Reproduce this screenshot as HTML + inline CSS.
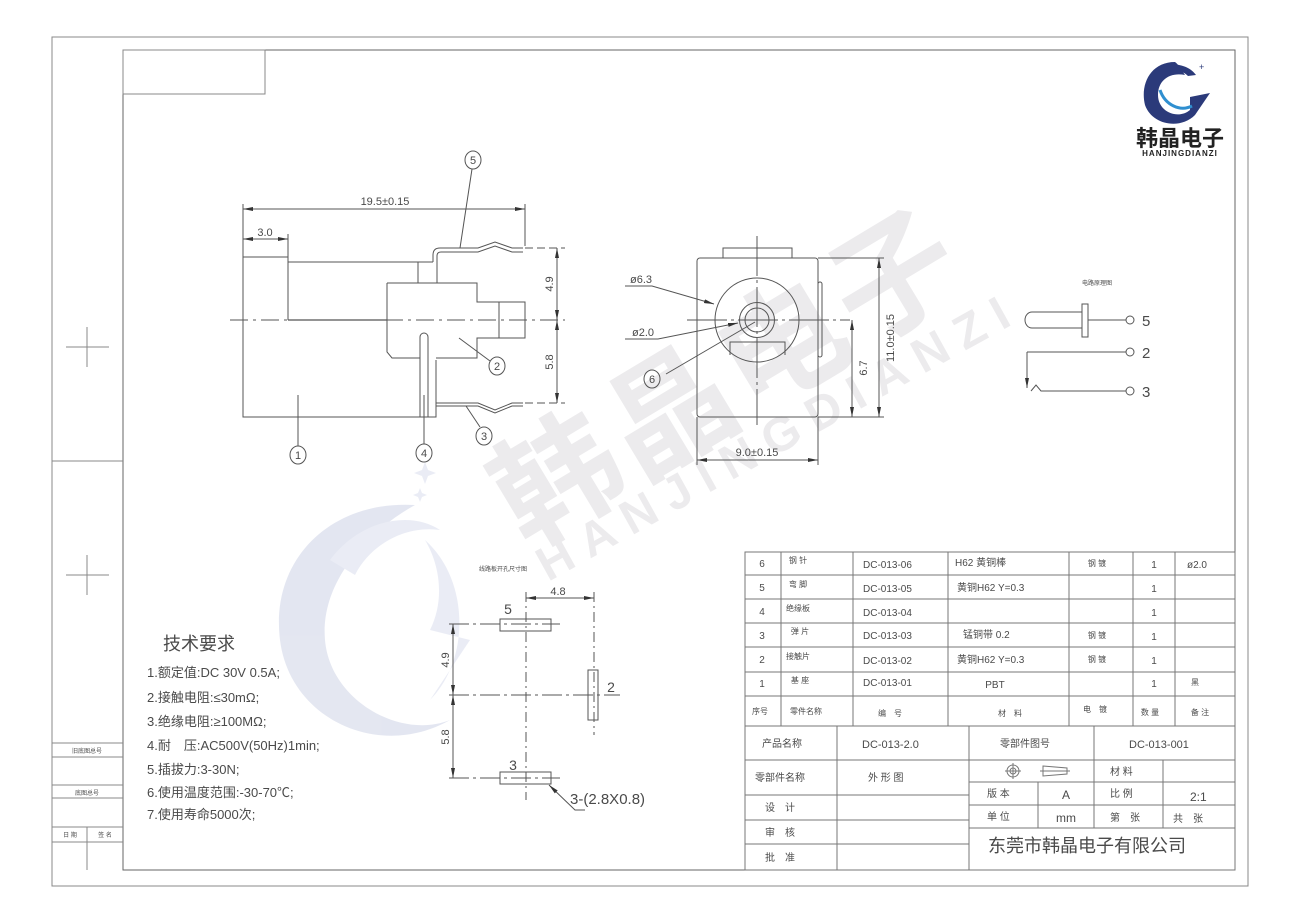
<!DOCTYPE html>
<html><head><meta charset="utf-8">
<style>
html,body{margin:0;padding:0;background:#fff;}
svg{display:block;}
text{font-family:"Liberation Sans","Noto Sans CJK SC",sans-serif;fill:#4a4a4a;}
.cj{font-family:"Liberation Sans","Noto Sans CJK SC",sans-serif;}
</style></head><body>
<svg width="1300" height="922" viewBox="0 0 1300 922" xmlns="http://www.w3.org/2000/svg">
<defs>
<marker id="ar" viewBox="0 0 10 4" refX="10" refY="2" markerWidth="10" markerHeight="4" orient="auto-start-reverse" markerUnits="userSpaceOnUse"><path d="M0,0 L10,2 L0,4z" fill="#333"/></marker>
</defs>
<rect width="1300" height="922" fill="#fff"/>

<!-- watermark faded logo -->
<g opacity="0.5">
<path d="M415,505 C330,500 270,560 280,640 C290,720 380,760 450,720 C400,740 330,700 325,640 C320,580 370,530 415,505z" fill="#c9cfe4"/>
<path d="M330,560 C360,520 410,510 440,530 C405,525 370,545 355,575z" fill="#d6dbec"/>
<path d="M425,540 C470,580 470,660 430,700 L470,640 L430,630 C445,600 440,565 425,540z" fill="#d6dbec"/>
<path d="M425,462 l3,8 8,3 -8,3 -3,8 -3,-8 -8,-3 8,-3z" fill="#d6dbec"/>
<path d="M420,488 l2,5 5,2 -5,2 -2,5 -2,-5 -5,-2 5,-2z" fill="#d6dbec"/>
</g>
<g transform="translate(555,480) rotate(-31)">
<text x="-60" y="45" font-size="125" font-weight="bold" style="fill:#ecebed" class="cj" letter-spacing="6">韩晶电子</text>
</g>
<g transform="translate(548,582) rotate(-29)">
<text x="0" y="0" font-size="48" font-weight="bold" style="fill:#ecebed" letter-spacing="13">HANJINGDIANZI</text>
</g>

<!-- frames -->
<g stroke="#888" fill="none" stroke-width="1">
<rect x="52" y="37" width="1196" height="849"/>
<rect x="123" y="50" width="1112" height="820" stroke="#666"/>
<rect x="123" y="50" width="142" height="44"/>
<line x1="52" y1="461" x2="123" y2="461"/>
<line x1="52" y1="743" x2="123" y2="743"/>
<line x1="52" y1="757" x2="123" y2="757"/>
<line x1="52" y1="785" x2="123" y2="785"/>
<line x1="52" y1="798" x2="123" y2="798"/>
<line x1="52" y1="827" x2="123" y2="827"/>
<line x1="52" y1="842" x2="123" y2="842"/>
<line x1="87" y1="827" x2="87" y2="870"/>
<line x1="66" y1="347" x2="109" y2="347"/><line x1="87" y1="327" x2="87" y2="367"/>
<line x1="66" y1="575" x2="109" y2="575"/><line x1="87" y1="555" x2="87" y2="595"/>
</g>
<text x="87" y="753" font-size="6" text-anchor="middle" class="cj">旧底图总号</text>
<text x="87" y="795" font-size="6" text-anchor="middle" class="cj">底图总号</text>
<text x="70" y="837" font-size="6" text-anchor="middle" class="cj">日 期</text>
<text x="105" y="837" font-size="6" text-anchor="middle" class="cj">签 名</text>

<!-- logo top right -->
<g>
<path d="M1175,62 C1150,62 1140,85 1145,105 C1152,125 1180,130 1195,115 L1210,93 L1190,97 L1190,110 C1178,120 1158,112 1158,95 C1158,80 1170,72 1185,75 C1180,68 1178,64 1175,62z" fill="#2b3a7a"/>
<path d="M1160,90 C1165,105 1180,112 1192,106" stroke="#2f8fd0" stroke-width="3" fill="none"/>
<path d="M1165,66 C1175,62 1190,66 1196,75 L1188,76 C1182,70 1172,68 1165,72z" fill="#2b3a7a"/>
<text x="1199" y="70" font-size="9" style="fill:#2b3a7a">+</text>
<text x="1180" y="146" font-size="22" font-weight="bold" text-anchor="middle" style="fill:#222" class="cj">韩晶电子</text>
<text x="1180" y="156" font-size="8" font-weight="bold" text-anchor="middle" style="fill:#222" letter-spacing="1">HANJINGDIANZI</text>
</g>

<!-- LEFT side view -->
<g stroke="#555" fill="none" stroke-width="1">
<line x1="243" y1="204" x2="243" y2="257"/>
<line x1="525" y1="204" x2="525" y2="246"/>
<line x1="288" y1="234" x2="288" y2="257"/>
<line x1="243" y1="209" x2="525" y2="209" marker-start="url(#ar)" marker-end="url(#ar)"/>
<line x1="243" y1="239" x2="288" y2="239" marker-start="url(#ar)" marker-end="url(#ar)"/>
<path d="M243,257 H288 V262 H433"/>
<path d="M243,257 V417 H436 V360"/>
<line x1="418" y1="262" x2="418" y2="283"/>
<path d="M387,283 H477 V302 H525 V338 H477 V358 H436"/>
<path d="M387,283 V352 L392,358 H420"/>
<line x1="499" y1="302" x2="499" y2="338"/>
<line x1="288" y1="262" x2="288" y2="320"/>
<line x1="288" y1="320" x2="387" y2="320" stroke-width="1.3"/>
<line x1="230" y1="320" x2="565" y2="320" stroke-dasharray="18,5,3,5"/>
<path d="M420,417 V337 A4,4 0 0 1 428,337 V417"/>
<path d="M433,262 V255 Q433,248 440,248 H478 L495,242 L512,248 H523"/>
<path d="M437,283 V256 Q437,252 441,252 H478 L495,246 L512,252 H523"/>
<path d="M436,403 H478 L495,410 L512,403 H523"/>
<path d="M436,406 H478 L495,413 L512,406 H523"/>
<line x1="525" y1="248" x2="565" y2="248" stroke-dasharray="8,4"/>
<line x1="525" y1="403" x2="565" y2="403" stroke-dasharray="8,4"/>
<line x1="557" y1="248" x2="557" y2="320" marker-start="url(#ar)" marker-end="url(#ar)"/>
<line x1="557" y1="320" x2="557" y2="403" marker-start="url(#ar)" marker-end="url(#ar)"/>
<ellipse cx="473" cy="160" rx="8" ry="9"/><line x1="472" y1="169" x2="460" y2="248"/>
<ellipse cx="497" cy="366" rx="8" ry="9"/><line x1="490" y1="361" x2="459" y2="338"/>
<ellipse cx="484" cy="436" rx="8" ry="9"/><line x1="480" y1="427" x2="466" y2="406"/>
<ellipse cx="298" cy="455" rx="8" ry="9"/><line x1="298" y1="446" x2="298" y2="395"/>
<ellipse cx="424" cy="453" rx="8" ry="9"/><line x1="424" y1="444" x2="424" y2="395"/>
</g>
<g font-size="11">
<text x="385" y="205" text-anchor="middle">19.5±0.15</text>
<text x="265" y="236" text-anchor="middle">3.0</text>
<text transform="translate(553,284) rotate(-90)" text-anchor="middle">4.9</text>
<text transform="translate(553,362) rotate(-90)" text-anchor="middle">5.8</text>
<text x="473" y="164" text-anchor="middle">5</text>
<text x="497" y="370" text-anchor="middle">2</text>
<text x="484" y="440" text-anchor="middle">3</text>
<text x="298" y="459" text-anchor="middle">1</text>
<text x="424" y="457" text-anchor="middle">4</text>
</g>

<!-- FRONT view -->
<g stroke="#555" fill="none" stroke-width="1">
<rect x="697" y="258" width="121" height="159" rx="3"/>
<path d="M723,258 V248 H792 V258"/>
<circle cx="757" cy="320" r="42"/>
<circle cx="757" cy="320" r="17.5"/>
<circle cx="757" cy="320" r="12"/>
<path d="M730,355 V342 H785 V355"/>
<rect x="818" y="282" width="4" height="75" rx="2"/>
<line x1="757" y1="236" x2="757" y2="425" stroke-dasharray="40,4,3,4"/>
<line x1="687" y1="320" x2="850" y2="320" stroke-dasharray="40,4,3,4"/>
<line x1="818" y1="258" x2="884" y2="258"/>
<line x1="818" y1="417" x2="884" y2="417"/>
<line x1="879" y1="258" x2="879" y2="417" marker-start="url(#ar)" marker-end="url(#ar)"/>
<line x1="852" y1="320" x2="852" y2="417" marker-start="url(#ar)" marker-end="url(#ar)"/>
<line x1="697" y1="417" x2="697" y2="465"/><line x1="818" y1="417" x2="818" y2="465"/>
<line x1="697" y1="460" x2="818" y2="460" marker-start="url(#ar)" marker-end="url(#ar)"/>
<polyline points="625,286 652,286 714,304" marker-end="url(#ar)"/>
<polyline points="625,339 658,339 738,323" marker-end="url(#ar)"/>
<ellipse cx="652" cy="379" rx="8" ry="9"/>
<line x1="666" y1="374" x2="755" y2="322"/>
</g>
<g font-size="11">
<text x="630" y="283">ø6.3</text>
<text x="632" y="336">ø2.0</text>
<text x="652" y="383" text-anchor="middle">6</text>
<text transform="translate(894,338) rotate(-90)" text-anchor="middle">11.0±0.15</text>
<text transform="translate(867,368) rotate(-90)" text-anchor="middle">6.7</text>
<text x="757" y="456" text-anchor="middle">9.0±0.15</text>
</g>

<!-- schematic -->
<text x="1097" y="285" font-size="6" text-anchor="middle" class="cj">电路原理图</text>
<g stroke="#555" fill="none" stroke-width="1">
<path d="M1082,312 H1032 A7,8 0 0 0 1032,328 H1082"/>
<rect x="1082" y="304" width="6" height="33"/>
<line x1="1088" y1="320" x2="1126" y2="320"/>
<circle cx="1130" cy="320" r="4"/>
<line x1="1027" y1="352" x2="1126" y2="352"/>
<circle cx="1130" cy="352" r="4"/>
<line x1="1027" y1="352" x2="1027" y2="388" marker-end="url(#ar)"/>
<polyline points="1031,391 1036,385 1041,391 1126,391"/>
<circle cx="1130" cy="391" r="4"/>
</g>
<g font-size="15"><text x="1142" y="326">5</text><text x="1142" y="358">2</text><text x="1142" y="397">3</text></g>

<!-- PCB layout -->
<text x="503" y="571" font-size="6" text-anchor="middle" class="cj">线路板开孔尺寸图</text>
<g stroke="#555" fill="none" stroke-width="1">
<line x1="526" y1="592" x2="526" y2="800" stroke-dasharray="10,4,2,4"/>
<line x1="594" y1="592" x2="594" y2="735" stroke-dasharray="10,4,2,4"/>
<line x1="526" y1="598" x2="594" y2="598" marker-start="url(#ar)" marker-end="url(#ar)"/>
<line x1="449" y1="624" x2="560" y2="624" stroke-dasharray="20,4,3,4"/>
<line x1="449" y1="695" x2="620" y2="695" stroke-dasharray="20,4,3,4"/>
<line x1="449" y1="778" x2="560" y2="778" stroke-dasharray="20,4,3,4"/>
<rect x="500" y="619" width="51" height="12"/>
<rect x="588" y="670" width="10" height="50"/>
<rect x="500" y="772" width="51" height="12"/>
<line x1="453" y1="624" x2="453" y2="695" marker-start="url(#ar)" marker-end="url(#ar)"/>
<line x1="453" y1="695" x2="453" y2="778" marker-start="url(#ar)" marker-end="url(#ar)"/>
<polyline points="585,810 575,810 549,785" marker-end="url(#ar)"/>
</g>
<g font-size="14">
<text x="558" y="595" text-anchor="middle" font-size="11">4.8</text>
<text x="508" y="614" text-anchor="middle">5</text>
<text x="611" y="692" text-anchor="middle">2</text>
<text x="513" y="770" text-anchor="middle">3</text>
<text x="570" y="804" font-size="15">3-(2.8X0.8)</text>
<text transform="translate(449,660) rotate(-90)" text-anchor="middle" font-size="11">4.9</text>
<text transform="translate(449,737) rotate(-90)" text-anchor="middle" font-size="11">5.8</text>
</g>

<!-- tech requirements -->
<g class="cj">
<text x="163" y="650" font-size="18">技术要求</text>
<g font-size="13">
<text x="147" y="677">1.额定值:DC  30V  0.5A;</text>
<text x="147" y="702">2.接触电阻:≤30mΩ;</text>
<text x="147" y="726">3.绝缘电阻:≥100MΩ;</text>
<text x="147" y="750">4.耐　压:AC500V(50Hz)1min;</text>
<text x="147" y="774">5.插拔力:3-30N;</text>
<text x="147" y="797">6.使用温度范围:-30-70℃;</text>
<text x="147" y="819">7.使用寿命5000次;</text>
</g></g>

<!-- title block -->
<g stroke="#777" fill="none" stroke-width="1">
<rect x="745" y="552" width="490" height="318"/>
<line x1="745" y1="575" x2="1235" y2="575"/>
<line x1="745" y1="599" x2="1235" y2="599"/>
<line x1="745" y1="623" x2="1235" y2="623"/>
<line x1="745" y1="647" x2="1235" y2="647"/>
<line x1="745" y1="672" x2="1235" y2="672"/>
<line x1="745" y1="696" x2="1235" y2="696"/>
<line x1="745" y1="726" x2="1235" y2="726"/>
<line x1="781" y1="552" x2="781" y2="726"/>
<line x1="853" y1="552" x2="853" y2="726"/>
<line x1="948" y1="552" x2="948" y2="726"/>
<line x1="1069" y1="552" x2="1069" y2="726"/>
<line x1="1133" y1="552" x2="1133" y2="726"/>
<line x1="1175" y1="552" x2="1175" y2="726"/>
<line x1="745" y1="760" x2="1235" y2="760"/>
<line x1="745" y1="795" x2="969" y2="795"/>
<line x1="745" y1="820" x2="969" y2="820"/>
<line x1="745" y1="844" x2="969" y2="844"/>
<line x1="969" y1="782" x2="1235" y2="782"/>
<line x1="969" y1="805" x2="1235" y2="805"/>
<line x1="969" y1="828" x2="1235" y2="828"/>
<line x1="837" y1="726" x2="837" y2="870"/>
<line x1="969" y1="726" x2="969" y2="870"/>
<line x1="1094" y1="726" x2="1094" y2="828"/>
<line x1="1038" y1="782" x2="1038" y2="828"/>
<line x1="1163" y1="760" x2="1163" y2="828"/>
<circle cx="1013" cy="771" r="6"/><circle cx="1013" cy="771" r="3"/>
<line x1="1005" y1="771" x2="1021" y2="771"/><line x1="1013" y1="763" x2="1013" y2="779"/>
<path d="M1043,766 L1067,768 V774 L1043,776z"/><line x1="1040" y1="771" x2="1070" y2="771"/>
</g>
<g font-size="10" class="cj">
<g text-anchor="middle">
<text x="762" y="567">6</text><text x="762" y="591">5</text><text x="762" y="615">4</text><text x="762" y="639">3</text><text x="762" y="663">2</text><text x="762" y="687">1</text>
<text x="798" y="563" font-size="8">钢 针</text><text x="798" y="587" font-size="8">弯 脚</text><text x="798" y="611" font-size="8">绝缘板</text><text x="800" y="634" font-size="8">弹 片</text><text x="798" y="659" font-size="8">接触片</text><text x="800" y="683" font-size="8">基 座</text>
<text x="760" y="714" font-size="8">序号</text><text x="806" y="714" font-size="8">零件名称</text>
<text x="890" y="716" font-size="8">编　号</text><text x="1010" y="716" font-size="8">材　料</text>
<text x="1095" y="712" font-size="8">电　镀</text><text x="1150" y="715" font-size="8">数 量</text><text x="1200" y="715" font-size="8">备 注</text>
<text x="1097" y="566" font-size="8">钢 镀</text><text x="1097" y="638" font-size="8">钢 镀</text><text x="1097" y="662" font-size="8">钢 镀</text>
<text x="1154" y="568">1</text><text x="1154" y="592">1</text><text x="1154" y="616">1</text><text x="1154" y="640">1</text><text x="1154" y="664">1</text><text x="1154" y="687">1</text>
<text x="1197" y="568">ø2.0</text><text x="1195" y="685" font-size="8">黑</text>
<text x="995" y="688">PBT</text>
</g>
<text x="863" y="568">DC-013-06</text><text x="863" y="592">DC-013-05</text><text x="863" y="616">DC-013-04</text><text x="863" y="639">DC-013-03</text><text x="863" y="664">DC-013-02</text><text x="863" y="686">DC-013-01</text>
<text x="955" y="566">H62 黄铜棒</text><text x="957" y="591">黄铜H62  Y=0.3</text><text x="963" y="638">锰铜带 0.2</text><text x="957" y="663">黄铜H62  Y=0.3</text>
<text x="762" y="747">产品名称</text>
<text x="862" y="748" font-size="11">DC-013-2.0</text>
<text x="1000" y="747">零部件图号</text>
<text x="1129" y="748" font-size="11">DC-013-001</text>
<text x="755" y="781">零部件名称</text>
<text x="868" y="781">外 形 图</text>
<text x="1110" y="775">材 料</text>
<text x="987" y="797">版 本</text><text x="1062" y="799" font-size="12">A</text><text x="1110" y="797">比 例</text><text x="1190" y="801" font-size="12">2:1</text>
<text x="987" y="820">单 位</text><text x="1056" y="822" font-size="12">mm</text><text x="1110" y="821">第　张</text><text x="1173" y="822">共　张</text>
<text x="765" y="811">设　计</text><text x="765" y="836">审　核</text><text x="765" y="861">批　准</text>
<text x="988" y="852" font-size="18">东莞市韩晶电子有限公司</text>
</g>
</svg>
</body></html>
